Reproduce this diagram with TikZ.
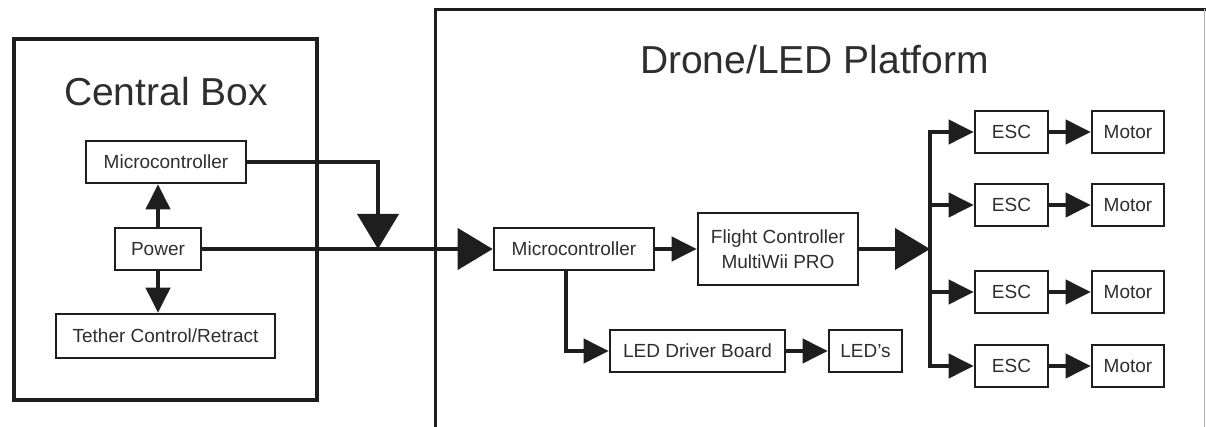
\documentclass[tikz,border=0pt]{standalone}
\usepackage{fontspec}
\setmainfont{Liberation Sans}
\usetikzlibrary{arrows.meta}
\definecolor{ink}{HTML}{1E1E1E}
\definecolor{txt}{HTML}{2E2E2E}
\tikzset{
  blk/.style={draw=ink, line width=2.6pt, inner sep=0pt, text=txt,
    font=\fontsize{19}{25}\selectfont, align=center},
  conn/.style={draw=ink, line width=4pt},
  smalltip/.style={-{Triangle[length=25pt,width=24pt]}},
  bigtip/.style={-{Triangle[length=35pt,width=41pt]}},
  frame/.style={draw=ink, line width=4pt},
  ttl/.style={text=txt, font=\fontsize{39}{44}\selectfont, inner sep=0pt, anchor=base}
}
\begin{document}
\begin{tikzpicture}[x=1pt,y=-1pt]
\useasboundingbox (0,0) rectangle (1206,427);
% frames
\draw[frame] (14,39) rectangle (317,400);
\draw[draw=ink, line width=3pt] (435,427) -- (435,9.5) -- (1206,9.5);
\draw[gray!60, line width=1pt] (1204.5,9.5) -- (1204.5,427);
% titles
\node[ttl] (t1) at (166,106) {Central Box};
\node[ttl] (t2) at (814.5,74) {Drone/LED Platform};
% central box
\node[blk, minimum width=160pt, minimum height=42pt] (cmc) at (166,162) {Microcontroller};
\node[blk, minimum width=86pt, minimum height=42pt] (pwr) at (158,249) {Power};
\node[blk, minimum width=219pt, minimum height=44pt] (teth) at (165.5,336) {Tether Control/Retract};
% drone platform
\node[blk, minimum width=160pt, minimum height=42pt] (dmc) at (574,249) {Microcontroller};
\node[blk, minimum width=160pt, minimum height=72pt] (fc) at (778,249) {Flight Controller\\MultiWii PRO};
\node[blk, minimum width=175pt, minimum height=42pt] (ldb) at (697.5,351) {LED Driver Board};
\node[blk, minimum width=73pt, minimum height=42pt] (leds) at (865.5,351) {LED's};
\foreach \i/\yy in {1/132,2/205,3/292,4/366}{
  \node[blk, minimum width=73pt, minimum height=42pt] (esc\i) at (1011.5,\yy) {ESC};
  \node[blk, minimum width=72pt, minimum height=42pt] (mot\i) at (1128,\yy) {Motor};
}
\coordinate (j) at (378,249);
\coordinate (bus) at (930,249);
\coordinate (bustop) at (930,132);
\coordinate (busbot) at (930,366);
% connectors central
\draw[conn, smalltip] (pwr.north) -- (pwr.north |- cmc.south);
\draw[conn, smalltip] (pwr.south) -- (pwr.south |- teth.north);
\draw[conn, bigtip] (cmc.east) -| (j);
\draw[conn, bigtip] (pwr.east) -- (dmc.west);
% drone connectors
\draw[conn, smalltip] (dmc.east) -- (fc.west);
\draw[conn, smalltip] (dmc.south -| 566,0) |- (ldb.west);
\draw[conn, smalltip] (ldb.east) -- (leds.west);
\draw[conn, bigtip] (fc.east) -- (bus);
\draw[conn, line cap=rect] (bustop) -- (busbot);
\foreach \i in {1,2,3,4}{
  \draw[conn, smalltip] (esc\i.west -| bus) -- (esc\i.west);
  \draw[conn, smalltip] (esc\i.east) -- (mot\i.west);
}
\end{tikzpicture}
\end{document}
